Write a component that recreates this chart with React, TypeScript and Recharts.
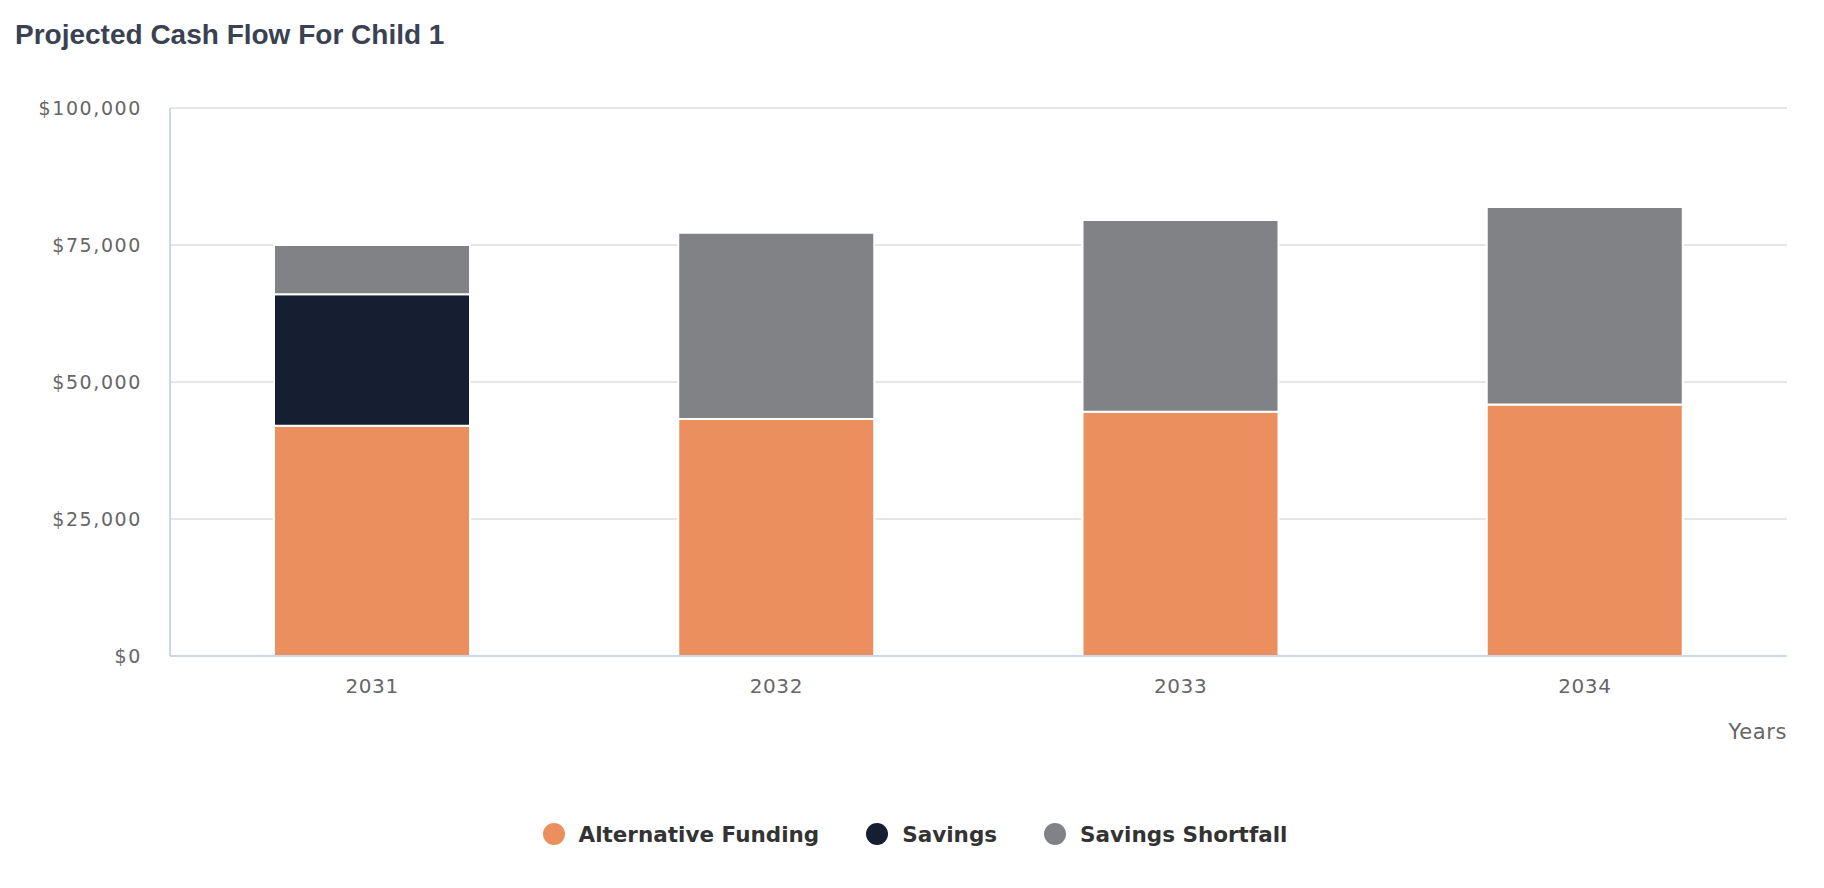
import React from 'react';
import { BarChart, Bar, XAxis, YAxis, CartesianGrid, Legend, Label } from 'recharts';

const years = ['2031', '2032', '2033', '2034'];
const alternativeFunding = [42000, 43260, 44558, 45895];
const savings = [24000, 0, 0, 0];
const savingsShortfall = [9000, 33990, 35010, 36060];
const yTicks = [0, 25000, 50000, 75000, 100000];

const series = [
  { key: 'alternativeFunding', name: 'Alternative Funding', color: '#EC8F5E' },
  { key: 'savings', name: 'Savings', color: '#151F31' },
  { key: 'savingsShortfall', name: 'Savings Shortfall', color: '#818286' },
];

const data = years.map((year, i) => ({
  year,
  alternativeFunding: alternativeFunding[i],
  savings: savings[i],
  savingsShortfall: savingsShortfall[i],
}));

const money = (v: number) => '$' + v.toLocaleString('en-US');

const YTick = ({ x, y, payload }: any) => (
  <text
    x={x - 28}
    y={y}
    textAnchor="end"
    dominantBaseline="central"
    fill="#666666"
    fontFamily="DejaVu Sans"
    fontSize={19}
    letterSpacing={1.6}
  >
    {money(payload.value)}
  </text>
);

const XTick = ({ x, y, payload }: any) => (
  <text
    x={x}
    y={y + 22}
    textAnchor="middle"
    dominantBaseline="central"
    fill="#666666"
    fontFamily="DejaVu Sans"
    fontSize={20}
    letterSpacing={0.6}
  >
    {payload.value}
  </text>
);

const LegendContent = () => (
  <div
    style={{
      display: 'flex',
      justifyContent: 'center',
      alignItems: 'center',
      height: 40,
      paddingLeft: 23,
      fontFamily: 'DejaVu Sans',
      fontWeight: 700,
      fontSize: 21.5,
      color: '#333333',
    }}
  >
    {series.map((s, i) => (
      <div key={s.key} style={{ display: 'flex', alignItems: 'center', marginLeft: i === 0 ? 0 : 47 }}>
        <span
          style={{
            width: 22,
            height: 22,
            borderRadius: '50%',
            background: s.color,
            display: 'inline-block',
            marginRight: 14,
          }}
        />
        <span>{s.name}</span>
      </div>
    ))}
  </div>
);

export default function App() {
  return (
    <div style={{ position: 'absolute', left: 0, top: 0, width: 1824, height: 888, background: '#fff' }}>
      <div
        style={{
          position: 'absolute',
          left: 15,
          top: 18,
          fontFamily: 'Liberation Sans',
          fontWeight: 700,
          fontSize: 28,
          lineHeight: '34px',
          color: '#3A4252',
        }}
      >
        Projected Cash Flow For Child 1
      </div>
      <BarChart
        width={1824}
        height={888}
        data={data}
        margin={{ top: 108, right: 37, left: 20, bottom: 34 }}
        barSize={196}
      >
        <CartesianGrid stroke="#E6E6E6" strokeWidth={2} vertical={false} />
        <XAxis
          dataKey="year"
          height={158}
          axisLine={{ stroke: '#CCD6EB', strokeWidth: 2 }}
          tickLine={false}
          tick={<XTick />}
          interval={0}
        >
          <Label
            content={({ viewBox }: any) => (
              <text
                x={viewBox.x + viewBox.width}
                y={viewBox.y + 76}
                textAnchor="end"
                dominantBaseline="central"
                fill="#666666"
                fontFamily="DejaVu Sans"
                fontSize={21}
                letterSpacing={0.6}
              >
                Years
              </text>
            )}
          />
        </XAxis>
        <YAxis
          width={150}
          domain={[0, 100000]}
          ticks={yTicks}
          axisLine={{ stroke: '#CCD6EB', strokeWidth: 2 }}
          tickLine={false}
          tick={<YTick />}
          tickSize={0}
          tickMargin={0}
          interval={0}
        />
        <Legend verticalAlign="bottom" height={40} content={<LegendContent />} />
        {series.map((s) => (
          <Bar
            key={s.key}
            dataKey={s.key}
            name={s.name}
            stackId="a"
            fill={s.color}
            stroke="#FFFFFF"
            strokeWidth={2}
            isAnimationActive={false}
          />
        ))}
      </BarChart>
    </div>
  );
}
